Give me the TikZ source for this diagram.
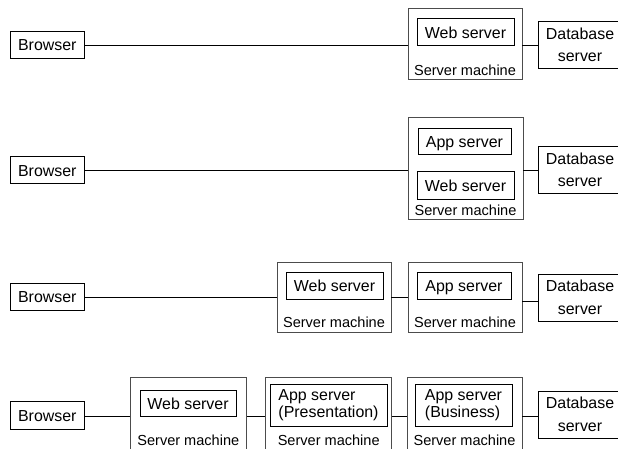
\documentclass[tikz,border=0pt]{standalone}
\usepackage{fontspec}
\setmainfont{Liberation Sans}
\begin{document}
\begin{tikzpicture}[x=1bp,y=-1bp,
  box/.style={draw=black,line width=0.9bp,inner sep=0pt,font=\fontsize{16}{18}\selectfont},
  onel/.style={box,text height=13bp,text depth=0bp},
  sz/.style 2 args={minimum width=#1bp,minimum height=#2bp},
  outer/.style={draw=black!70,line width=0.9bp,inner sep=0pt},
  lbl/.style={inner sep=0pt,font=\fontsize{14.6}{17}\selectfont},
  dbbox/.style={box,sz={84}{47},align=center,font=\fontsize{16}{22.5}\selectfont},
  twol/.style={box,align=left,font=\fontsize{16}{17}\selectfont},
  conn/.style={draw=black,line width=0.9bp}]
\useasboundingbox (0,0) rectangle (618,449);
% row coordinates
\coordinate (r1) at (0,45.5);
\coordinate (r2) at (0,170.7);
\coordinate (r3) at (0,297);
\coordinate (r3d) at (0,301.7);
\coordinate (r4) at (0,416);
% Row 1
\node[onel,sz={73.3}{27}] (b1) at (47.3,44.5) {Browser};
\node[outer,sz={114}{71}] (s1) at (465,43.5) {};
\node[onel,sz={97}{26.7}] (w1) at (465.5,32.3) {Web server};
\node[lbl] (l1) at (465,70) {Server machine};
\node[dbbox] (d1) at (580,45) {Database\\server};
\draw[conn] (b1.east |- r1) -- (s1.west |- r1);
\draw[conn] (s1.east |- r1) -- (d1.west |- r1);
% Row 2
\node[onel,sz={73.3}{27}] (b2) at (47.3,170) {Browser};
\node[outer,sz={115}{102}] (s2) at (465.5,168) {};
\node[onel,sz={93}{26}] (a2) at (464.5,141) {App server};
\node[onel,sz={97}{28}] (w2) at (465.5,185) {Web server};
\node[lbl] (l2) at (465.5,210) {Server machine};
\node[dbbox] (d2) at (580,170) {Database\\server};
\draw[conn] (b2.east |- r2) -- (s2.west |- r2);
\draw[conn] (s2.east |- r2) -- (d2.west |- r2);
% Row 3
\node[onel,sz={73.3}{27}] (b3) at (47.3,296.5) {Browser};
\node[outer,sz={114}{70}] (s3a) at (334,297) {};
\node[onel,sz={97}{27}] (w3) at (334.5,285.5) {Web server};
\node[lbl] (l3a) at (334,322) {Server machine};
\node[outer,sz={114}{70}] (s3b) at (465,297) {};
\node[onel,sz={94}{27}] (a3) at (464,285.5) {App server};
\node[lbl] (l3b) at (465,322) {Server machine};
\node[dbbox] (d3) at (580,297.5) {Database\\server};
\draw[conn] (b3.east |- r3) -- (s3a.west |- r3);
\draw[conn] (s3a.east |- r3) -- (s3b.west |- r3);
\draw[conn] (s3b.east |- r3d) -- (d3.west |- r3d);
% Row 4
\node[onel,sz={73.3}{28}] (b4) at (47.3,415) {Browser};
\node[outer,sz={116.7}{72}] (s4a) at (188.3,413) {};
\node[onel,sz={96}{26}] (w4) at (188,403) {Web server};
\node[lbl] (l4a) at (188.3,440) {Server machine};
\node[outer,sz={126}{72}] (s4b) at (328.7,413) {};
\node[twol,sz={117}{42}] (p4) at (328.5,405) {App server\\(Presentation)};
\node[lbl] (l4b) at (328.7,440) {Server machine};
\node[outer,sz={115}{72}] (s4c) at (464.5,413) {};
\node[twol,sz={97}{42}] (q4) at (463.5,405) {App server\\(Business)};
\node[lbl] (l4c) at (464.5,440) {Server machine};
\node[dbbox] (d4) at (580,414.5) {Database\\server};
\draw[conn] (b4.east |- r4) -- (s4a.west |- r4);
\draw[conn] (s4a.east |- r4) -- (s4b.west |- r4);
\draw[conn] (s4b.east |- r4) -- (s4c.west |- r4);
\draw[conn] (s4c.east |- r4) -- (d4.west |- r4);
\end{tikzpicture}
\end{document}
